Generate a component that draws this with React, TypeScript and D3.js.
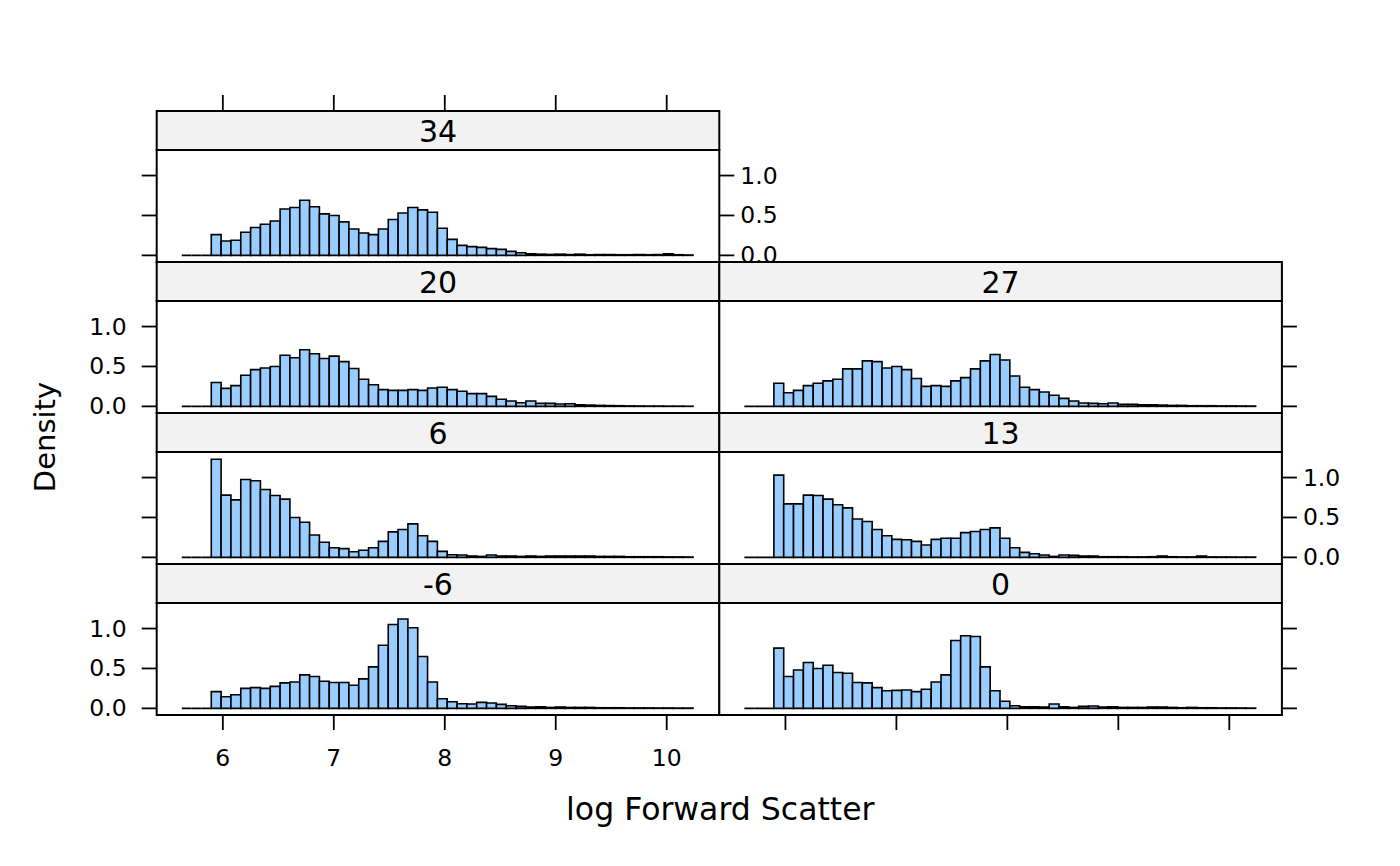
import { useEffect, useRef } from "react";
import * as d3 from "d3";

// density per bin (log Forward Scatter), one array per panel
const binStart = 5.63;
const binWidth = 0.0886;

const dens34 = [0, 0, 0, 0.26, 0.18, 0.19, 0.29, 0.35, 0.39, 0.43, 0.58, 0.6, 0.69, 0.61, 0.52, 0.5, 0.42, 0.33, 0.28, 0.26, 0.33, 0.45, 0.53, 0.6, 0.57, 0.54, 0.34, 0.2, 0.125, 0.11, 0.1, 0.085, 0.075, 0.05, 0.033, 0.02, 0.015, 0.012, 0.015, 0.01, 0.015, 0.008, 0.01, 0.01, 0.008, 0.008, 0.01, 0.008, 0.01, 0.02, 0.008, 0.005];
const dens20 = [0, 0, 0, 0.3, 0.225, 0.26, 0.39, 0.46, 0.48, 0.5, 0.64, 0.61, 0.71, 0.66, 0.6, 0.63, 0.56, 0.475, 0.34, 0.27, 0.21, 0.2, 0.2, 0.21, 0.2, 0.23, 0.24, 0.21, 0.19, 0.16, 0.16, 0.125, 0.09, 0.067, 0.046, 0.067, 0.038, 0.038, 0.03, 0.033, 0.02, 0.016, 0.012, 0.01, 0.008, 0.006, 0.005, 0.004, 0.004, 0.003, 0.003, 0.002];
const dens27 = [0, 0, 0, 0.29, 0.17, 0.2, 0.26, 0.29, 0.32, 0.34, 0.47, 0.47, 0.57, 0.56, 0.48, 0.5, 0.46, 0.35, 0.25, 0.26, 0.25, 0.32, 0.36, 0.47, 0.57, 0.65, 0.58, 0.38, 0.24, 0.21, 0.18, 0.14, 0.1, 0.067, 0.042, 0.038, 0.033, 0.042, 0.025, 0.025, 0.02, 0.02, 0.016, 0.012, 0.012, 0.008, 0.008, 0.008, 0.006, 0.006, 0.005, 0.004];
const dens6 = [0, 0, 0, 1.23, 0.78, 0.72, 0.975, 0.96, 0.85, 0.775, 0.73, 0.5, 0.44, 0.28, 0.19, 0.12, 0.11, 0.07, 0.09, 0.12, 0.2, 0.32, 0.35, 0.42, 0.27, 0.2, 0.075, 0.033, 0.03, 0.017, 0.012, 0.03, 0.017, 0.017, 0.012, 0.017, 0.012, 0.017, 0.017, 0.017, 0.017, 0.017, 0.012, 0.012, 0.012, 0.008, 0.008, 0.008, 0.008, 0.006, 0.006, 0.005];
const dens13 = [0, 0, 0, 1.03, 0.67, 0.67, 0.78, 0.775, 0.73, 0.66, 0.62, 0.48, 0.45, 0.35, 0.27, 0.225, 0.22, 0.2, 0.155, 0.225, 0.24, 0.24, 0.31, 0.325, 0.35, 0.37, 0.24, 0.12, 0.0625, 0.046, 0.03, 0.012, 0.03, 0.025, 0.017, 0.017, 0.008, 0.008, 0.008, 0.006, 0.006, 0.008, 0.017, 0.008, 0.006, 0.006, 0.017, 0.006, 0.005, 0.005, 0.004, 0.004];
const densM6 = [0, 0, 0, 0.21, 0.145, 0.17, 0.25, 0.26, 0.25, 0.275, 0.32, 0.33, 0.42, 0.4, 0.34, 0.325, 0.325, 0.29, 0.37, 0.52, 0.79, 1.05, 1.12, 1.01, 0.65, 0.33, 0.12, 0.083, 0.058, 0.054, 0.075, 0.067, 0.05, 0.033, 0.025, 0.017, 0.02, 0.012, 0.017, 0.012, 0.012, 0.012, 0.008, 0.008, 0.008, 0.006, 0.006, 0.006, 0.005, 0.005, 0.004, 0.004];
const dens0 = [0, 0, 0, 0.755, 0.4, 0.48, 0.575, 0.5, 0.54, 0.45, 0.44, 0.325, 0.32, 0.26, 0.22, 0.225, 0.23, 0.21, 0.24, 0.33, 0.42, 0.85, 0.91, 0.9, 0.52, 0.22, 0.09, 0.033, 0.02, 0.02, 0.017, 0.054, 0.02, 0.012, 0.025, 0.03, 0.017, 0.02, 0.012, 0.012, 0.012, 0.017, 0.017, 0.012, 0.008, 0.012, 0.008, 0.008, 0.006, 0.006, 0.005, 0.004];

const panelLabels = ["34", "20", "27", "6", "13", "-6", "0"];
const panelValues = [dens34, dens20, dens27, dens6, dens13, densM6, dens0];
// grid cell (row, col) of each panel, top to bottom
const panelCells: [number, number][] = [[0, 0], [1, 0], [1, 1], [2, 0], [2, 1], [3, 0], [3, 1]];

const xTicks = [6, 7, 8, 9, 10];
const yTicks = [0, 0.5, 1];

export default function App() {
  const svgRef = useRef<SVGSVGElement>(null);

  useEffect(() => {
    if (!svgRef.current) return;
    const svg = d3.select(svgRef.current);
    svg.selectAll("*").remove();

    const font = "DejaVu Sans, sans-serif";
    const left = 156.7;
    const top = 111;
    const panelW = 562.6;
    const stripH = 39;
    const panelH = 112;
    const rowH = stripH + panelH;
    const tickLen = 15;
    const tickFont = "23.5px";

    const x = d3.scaleLinear().domain([5.404, 10.474]).range([0, panelW]);
    const y = d3.scaleLinear().domain([-0.083, 1.32]).range([panelH, 0]);

    const fmt = d3.format(".1f");

    panelLabels.forEach((label, i) => {
      const [row, col] = panelCells[i];
      const values = panelValues[i];
      const g = svg
        .append("g")
        .attr("transform", `translate(${left + col * panelW},${top + row * rowH})`);

      // strip
      g.append("rect")
        .attr("width", panelW)
        .attr("height", stripH)
        .attr("fill", "#f2f2f2")
        .attr("stroke", "black")
        .attr("stroke-width", 2);
      g.append("text")
        .attr("x", panelW / 2)
        .attr("y", stripH / 2 + 1)
        .attr("text-anchor", "middle")
        .attr("dominant-baseline", "central")
        .attr("font-family", font)
        .attr("font-size", "30px")
        .text(label);

      const p = g.append("g").attr("transform", `translate(0,${stripH})`);
      p.append("rect")
        .attr("width", panelW)
        .attr("height", panelH)
        .attr("fill", "white")
        .attr("stroke", "black")
        .attr("stroke-width", 2);

      // histogram bars (paths so that empty bins still show their outline)
      p.selectAll("path.bar")
        .data(values)
        .join("path")
        .attr("class", "bar")
        .attr("d", (d, j) => {
          const x0 = x(binStart + j * binWidth);
          const x1 = x(binStart + (j + 1) * binWidth);
          return `M${x0},${y(0)}V${y(d)}H${x1}V${y(0)}Z`;
        })
        .attr("fill", "#99ccff")
        .attr("stroke", "black")
        .attr("stroke-width", 1.6)
        .attr("stroke-linejoin", "miter");

      // y ticks: labels alternate left/right by row
      const labelsLeft = row % 2 === 1;
      yTicks.forEach((t) => {
        if (col === 0) {
          p.append("line")
            .attr("x1", -tickLen).attr("x2", 0)
            .attr("y1", y(t)).attr("y2", y(t))
            .attr("stroke", "black").attr("stroke-width", 1.8);
        }
        if (col === 1 || row === 0) {
          p.append("line")
            .attr("x1", panelW).attr("x2", panelW + tickLen)
            .attr("y1", y(t)).attr("y2", y(t))
            .attr("stroke", "black").attr("stroke-width", 1.8);
        }
        if (labelsLeft && col === 0) {
          p.append("text")
            .attr("x", -30)
            .attr("y", y(t))
            .attr("text-anchor", "end")
            .attr("dominant-baseline", "central")
            .attr("font-family", font)
            .attr("font-size", tickFont)
            .text(fmt(t));
        }
        if (!labelsLeft && (col === 1 || row === 0)) {
          p.append("text")
            .attr("x", panelW + 21)
            .attr("y", y(t))
            .attr("text-anchor", "start")
            .attr("dominant-baseline", "central")
            .attr("font-family", font)
            .attr("font-size", tickFont)
            .text(fmt(t));
        }
      });

      // x ticks
      xTicks.forEach((t) => {
        if (row === 3) {
          p.append("line")
            .attr("x1", x(t)).attr("x2", x(t))
            .attr("y1", panelH).attr("y2", panelH + tickLen)
            .attr("stroke", "black").attr("stroke-width", 1.8);
          if (col === 0) {
            p.append("text")
              .attr("x", x(t))
              .attr("y", panelH + 51)
              .attr("text-anchor", "middle")
              .attr("font-family", font)
              .attr("font-size", tickFont)
              .text(t);
          }
        }
        if (row === 0) {
          g.append("line")
            .attr("x1", x(t)).attr("x2", x(t))
            .attr("y1", -16).attr("y2", 0)
            .attr("stroke", "black").attr("stroke-width", 1.8);
        }
      });
    });

    // axis titles
    svg.append("text")
      .attr("x", left + panelW + 1)
      .attr("y", 820)
      .attr("text-anchor", "middle")
      .attr("font-family", font)
      .attr("font-size", "31.5px")
      .text("log Forward Scatter");

    svg.append("text")
      .attr("transform", "translate(45,437) rotate(-90)")
      .attr("text-anchor", "middle")
      .attr("dominant-baseline", "central")
      .attr("font-family", font)
      .attr("font-size", "29px")
      .text("Density");
  }, []);

  return (
    <div style={{ position: "absolute", left: 0, top: 0 }}>
      <svg ref={svgRef} width={1400} height={866} viewBox="0 0 1400 866" style={{ display: "block", background: "white" }}></svg>
    </div>
  );
}
